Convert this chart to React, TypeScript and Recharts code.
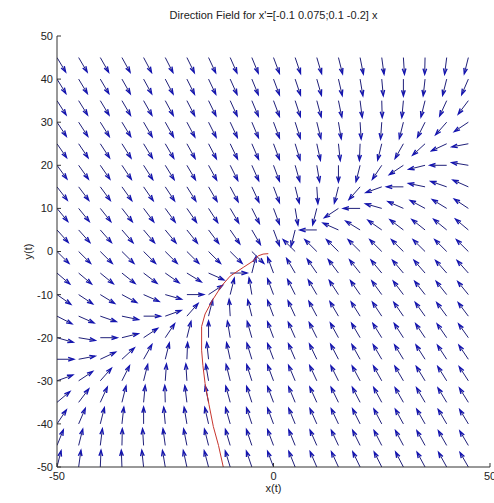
import { ComposedChart, Line, XAxis, YAxis, Label } from "recharts"

// grid of arrow tails
const gridX = [-50, -45, -40, -35, -30, -25, -20, -15, -10, -5, 0, 5, 10, 15, 20, 25, 30, 35, 40, 45]
const gridY = [-50, -45, -40, -35, -30, -25, -20, -15, -10, -5, 0, 5, 10, 15, 20, 25, 30, 35, 40, 45]

// system matrix from the title: x' = A x
const rowA1 = [-0.1, 0.075]
const rowA2 = [0.1, -0.2]

const xTicks = [-50, 0, 50]
const yTicks = [-50, -40, -30, -20, -10, 0, 10, 20, 30, 40, 50]

// red trajectory
const trajX = [-11.6, -12.7, -13.9, -14.9, -15.8, -16.3, -16.6, -16.6, -15.8, -14.1, -12, -10, -7, -4.7, -3.5, -2.4, -1.2]
const trajY = [-50, -45, -40.6, -35.5, -30.6, -26.5, -22.9, -17.4, -14.5, -11.3, -8, -5.7, -3.7, -2.2, -1.0, -0.6, -0.5]

const arrowLen = 3.85
const headAlpha = 0.33
const headBeta = 0.33

type Pt = { x: number; y: number | null }

const shafts: Pt[] = []
const heads: Pt[] = []
gridX.forEach((gx) => {
  gridY.forEach((gy) => {
    const u = rowA1[0] * gx + rowA1[1] * gy
    const v = rowA2[0] * gx + rowA2[1] * gy
    const n = Math.hypot(u, v)
    if (n === 0) return
    const du = (u / n) * arrowLen
    const dv = (v / n) * arrowLen
    const tx = gx + du
    const ty = gy + dv
    shafts.push({ x: gx, y: gy }, { x: tx, y: ty }, { x: tx, y: null })
    heads.push(
      { x: tx - headAlpha * (du + headBeta * dv), y: ty - headAlpha * (dv - headBeta * du) },
      { x: tx, y: ty },
      { x: tx - headAlpha * (du - headBeta * dv), y: ty - headAlpha * (dv + headBeta * du) },
      { x: tx, y: null }
    )
  })
})

const trajectory = trajX.map((x, i) => ({ x, y: trajY[i] }))

const font = "'Liberation Sans', Arial, Helvetica, sans-serif"

export default function App() {
  return (
    <div style={{ position: "absolute", left: 0, top: 0, width: 494, height: 503, background: "#fff", fontFamily: font }}>
      <div
        style={{
          position: "absolute",
          left: 57,
          top: 8,
          width: 433,
          textAlign: "center",
          fontSize: 11,
          lineHeight: "14px",
          color: "#222",
        }}
      >
        Direction Field for x'=[-0.1 0.075;0.1 -0.2] x
      </div>
      <ComposedChart width={494} height={503} margin={{ top: 36, right: 4, bottom: 0, left: 0 }} style={{ fontFamily: font }}>
        <XAxis
          type="number"
          dataKey="x"
          domain={[-50, 50]}
          ticks={xTicks}
          allowDataOverflow
          height={36}
          tickSize={-4}
          tickMargin={9}
          interval={0}
          stroke="#333"
          tick={{ fontSize: 11, fill: "#222" }}
        >
          <Label value="x(t)" position="center" dy={3} style={{ fontSize: 11, fill: "#222" }} />
        </XAxis>
        <YAxis
          type="number"
          dataKey="y"
          domain={[-50, 50]}
          ticks={yTicks}
          allowDataOverflow
          width={57}
          tickSize={-4}
          tickMargin={8}
          interval={0}
          stroke="#333"
          tick={{ fontSize: 11, fill: "#222" }}
        >
          <Label value="y(t)" position="center" angle={-90} style={{ fontSize: 11, fill: "#222" }} />
        </YAxis>
        <Line
          data={shafts}
          dataKey="y"
          stroke="#20207a"
          strokeWidth={1}
          dot={false}
          activeDot={false}
          isAnimationActive={false}
        />
        <Line
          data={heads}
          dataKey="y"
          stroke="#1414b0"
          strokeWidth={1.4}
          dot={false}
          activeDot={false}
          isAnimationActive={false}
        />
        <Line
          data={trajectory}
          dataKey="y"
          stroke="#c8362e"
          strokeWidth={1}
          dot={false}
          activeDot={false}
          isAnimationActive={false}
        />
      </ComposedChart>
    </div>
  )
}
